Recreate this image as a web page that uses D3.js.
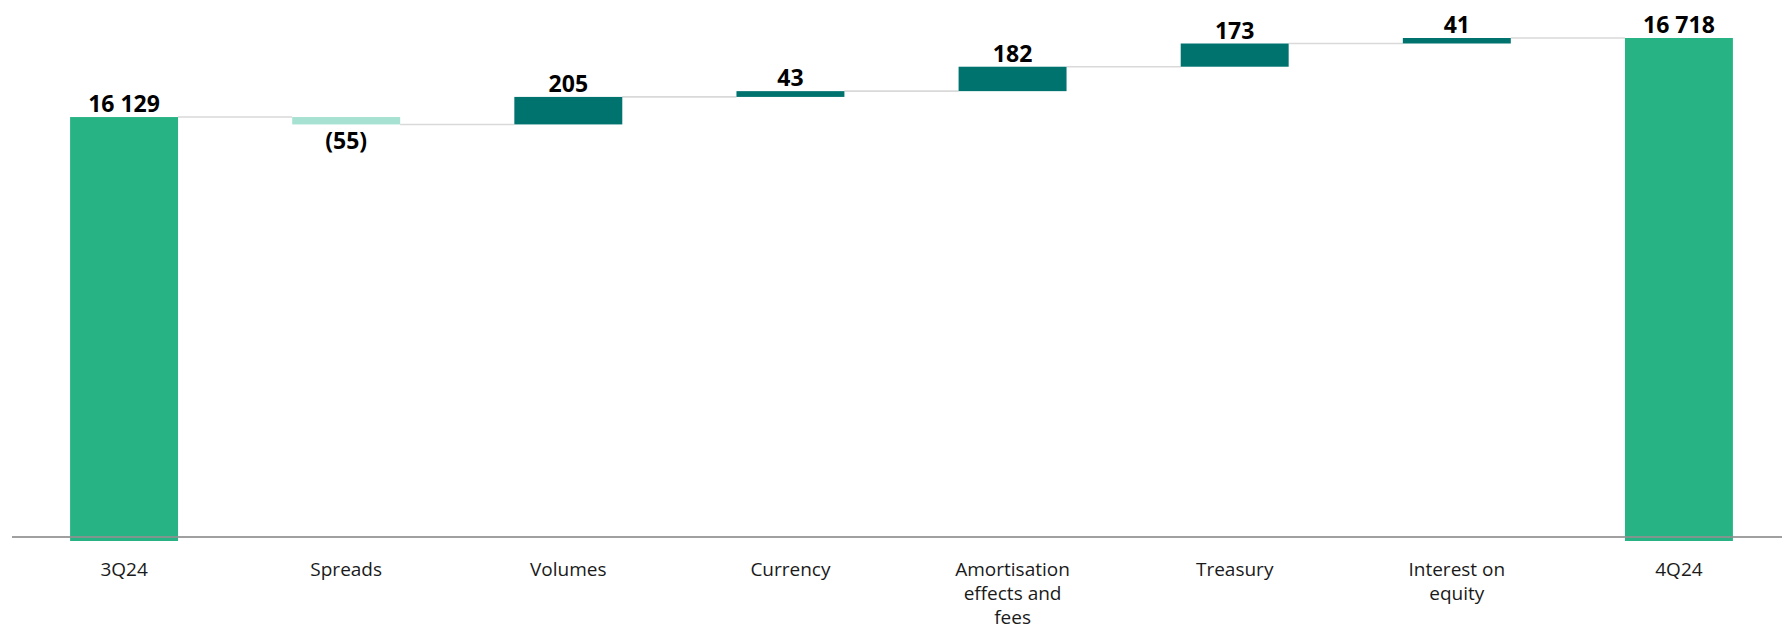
<!DOCTYPE html>
<html>
<head>
<meta charset="utf-8">
<script src="https://cdn.jsdelivr.net/npm/d3@7"></script>
<style>
  body { margin: 0; background: #fff; }
  svg { display: block; }
</style>
</head>
<body>
<div id="chart"></div>
<script>
// Waterfall data
const categories = ["3Q24", "Spreads", "Volumes", "Currency", "Amortisation\neffects and\nfees", "Treasury", "Interest on\nequity", "4Q24"];
const values = [16129, -55, 205, 43, 182, 173, 41, 16718];
const isTotal = [true, false, false, false, false, false, false, true];
const valueLabels = ["16 129", "(55)", "205", "43", "182", "173", "41", "16 718"];

const width = 1782, height = 631;

const svg = d3.select("#chart").append("svg")
  .attr("width", width)
  .attr("height", height);

// build start / end for each bar
let running = 0;
const bars = categories.map((c, i) => {
  let start, end;
  if (isTotal[i]) {
    start = null; end = values[i];
    running = values[i];
  } else {
    start = running; end = running + values[i];
    running = end;
  }
  return { cat: c, i: i, start: start, end: end, value: values[i], total: isTotal[i], label: valueLabels[i] };
});

const x = d3.scaleBand()
  .domain(d3.range(categories.length))
  .range([13, 1790])
  .paddingInner(0.514)
  .paddingOuter(0.257);

// axis is broken (does not start at zero)
const y = d3.scaleLinear()
  .domain([12970, 16718])
  .range([541, 38]);

const base = y.domain()[0];

const colTotal = "#27b384", colUp = "#00736f", colDown = "#a6e1d2";

// connectors
svg.append("g").selectAll("line")
  .data(bars.slice(0, -1))
  .enter().append("line")
  .attr("x1", d => x(d.i) + x.bandwidth())
  .attr("x2", d => x(d.i + 1))
  .attr("y1", d => y(d.end))
  .attr("y2", d => y(d.end))
  .attr("stroke", "#d9d9d9")
  .attr("stroke-width", 1.6);

// bars
svg.append("g").selectAll("rect")
  .data(bars)
  .enter().append("rect")
  .attr("x", d => x(d.i))
  .attr("width", x.bandwidth())
  .attr("y", d => d.total ? y(d.end) : y(Math.max(d.start, d.end)))
  .attr("height", d => d.total ? y(base) - y(d.end) : Math.abs(y(d.start) - y(d.end)))
  .attr("fill", d => d.total ? colTotal : (d.value < 0 ? colDown : colUp));

// baseline
svg.append("line")
  .attr("x1", 12)
  .attr("x2", width)
  .attr("y1", y(base) - 4)
  .attr("y2", y(base) - 4)
  .attr("stroke", "#8f8f8f")
  .attr("stroke-opacity", 0.85)
  .attr("stroke-width", 2);

// value labels
svg.append("g").selectAll("text")
  .data(bars)
  .enter().append("text")
  .attr("x", d => x(d.i) + x.bandwidth() / 2)
  .attr("y", d => {
    if (d.total) return y(d.end) - 5;
    if (d.value < 0) return y(d.end) + 25;
    return y(d.end) - 5;
  })
  .attr("text-anchor", "middle")
  .attr("font-family", "'Open Sans', sans-serif")
  .attr("font-weight", "bold")
  .attr("font-size", "23px")
  .attr("fill", "#000")
  .text(d => d.label);

// category labels
const catText = svg.append("g").selectAll("text")
  .data(bars)
  .enter().append("text")
  .attr("x", d => x(d.i) + x.bandwidth() / 2)
  .attr("y", 576)
  .attr("text-anchor", "middle")
  .attr("font-family", "'Open Sans', sans-serif")
  .attr("font-size", "19px")
  .attr("fill", "#1a1a1a");

catText.each(function(d) {
  const lines = d.cat.split("\n");
  d3.select(this).selectAll("tspan")
    .data(lines)
    .enter().append("tspan")
    .attr("x", x(d.i) + x.bandwidth() / 2)
    .attr("dy", (l, k) => k === 0 ? 0 : 24)
    .text(l => l);
});
</script>
</body>
</html>
